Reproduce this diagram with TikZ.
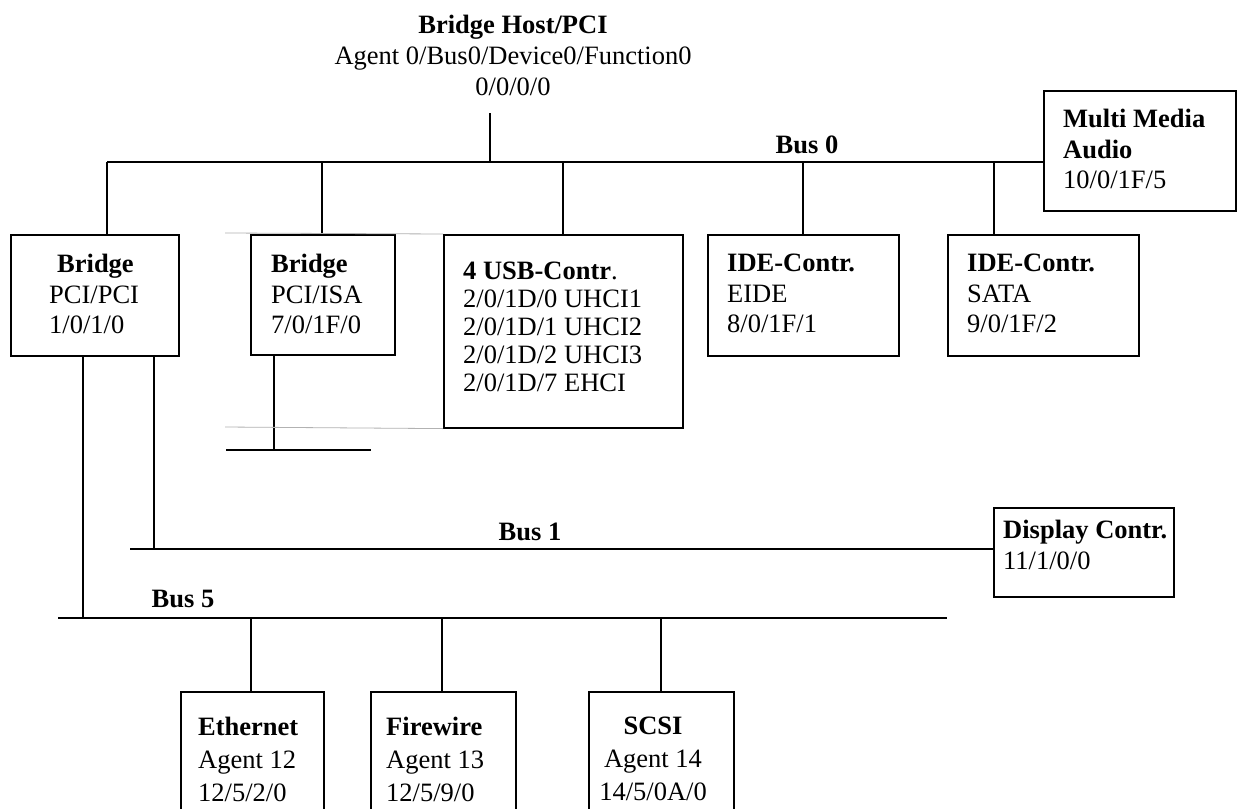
\documentclass[tikz,border=0pt]{standalone}
\usepackage{fontspec}
\setmainfont{Liberation Serif}
\begin{document}
\begin{tikzpicture}[x=1pt,y=-1pt,
  wire/.style={line width=1.6pt, black},
  box/.style={draw, line width=1.6pt, inner sep=0pt, anchor=north west},
  frameline/.style={line width=0.8pt, black!30},
  txt/.style={inner sep=0pt, anchor=north west, align=left,
    font=\fontsize{26.5}{30.5}\selectfont},
  usblines/.style={font=\fontsize{26.5}{28}\selectfont},
  buslabel/.style={inner sep=0pt, anchor=base, font=\fontsize{26.5}{30}\selectfont\bfseries}]
\clip (0,0) rectangle (1241,808);
\fill[white] (0,0) rectangle (1241,808);

% host bridge heading
\node[inner sep=0pt, anchor=north, align=center,
  font=\fontsize{26.5}{31}\selectfont] (host) at (513,15)
  {\textbf{Bridge Host/PCI}\\Agent 0/Bus0/Device0/Function0\\0/0/0/0};

% device boxes
\node[box, minimum width=168pt, minimum height=121pt] (pcipci) at (10,234) {};
\node[box, minimum width=144pt, minimum height=120pt] (isa) at (250,234) {};
\node[box, minimum width=239pt, minimum height=193pt] (usb) at (443,234) {};
\node[box, minimum width=191pt, minimum height=121pt] (eide) at (707,234) {};
\node[box, minimum width=191pt, minimum height=121pt] (sata) at (947,234) {};
\node[box, minimum width=192pt, minimum height=120pt] (mm) at (1043,90) {};
\node[box, minimum width=180pt, minimum height=89pt] (disp) at (993,507) {};
\node[box, minimum width=143pt, minimum height=160pt] (eth) at (180,691) {};
\node[box, minimum width=145pt, minimum height=160pt] (fw) at (370,691) {};
\node[box, minimum width=145pt, minimum height=160pt] (scsi) at (588,691) {};

% box texts
\node[txt] (pcipciT) at (49,254) {\hspace*{8pt}\textbf{Bridge}\\PCI/PCI\\1/0/1/0};
\node[txt] (isaT) at (271,254) {\textbf{Bridge}\\PCI/ISA\\7/0/1F/0};
\node[txt, usblines] (usbT) at (463,262) {\textbf{4 USB-Contr}.\\2/0/1D/0 UHCI1\\2/0/1D/1 UHCI2\\2/0/1D/2 UHCI3\\2/0/1D/7 EHCI};
\node[txt] (eideT) at (727,254) {\textbf{IDE-Contr.}\\EIDE\\8/0/1F/1};
\node[txt] (sataT) at (967,254) {\textbf{IDE-Contr.}\\SATA\\9/0/1F/2};
\node[txt] (mmT) at (1063,109) {\textbf{Multi Media}\\\textbf{Audio}\\10/0/1F/5};
\node[txt] (dispT) at (1003,520) {\textbf{Display Contr.}\\11/1/0/0};
\node[txt, font=\fontsize{26.5}{33}\selectfont] (ethT) at (198,717) {\textbf{Ethernet}\\Agent 12\\12/5/2/0};
\node[txt, font=\fontsize{26.5}{33}\selectfont] (fwT) at (386,717) {\textbf{Firewire}\\Agent 13\\12/5/9/0};
\node[txt, anchor=north, align=center, font=\fontsize{26.5}{33}\selectfont] (scsiT) at (653,717) {\textbf{SCSI}\\Agent 14\\14/5/0A/0};

% bus labels
\node[buslabel] (bus0) at (807,153) {Bus 0};
\node[buslabel] (bus1) at (530,540) {Bus 1};
\node[buslabel] (bus5) at (183,607) {Bus 5};

% bus taps and end points
\coordinate (hostTap) at (490,113);
\coordinate (b0L) at (107,162);
\coordinate (t0isa) at (322,162);
\coordinate (t0host) at (490,162);
\coordinate (t0usb) at (563,162);
\coordinate (t0eide) at (803,162);
\coordinate (t0sata) at (994,162);
\coordinate (b1L) at (130,549);
\coordinate (b1up) at (154,355);
\coordinate (b5L) at (58,618);
\coordinate (b5R) at (947,618);
\coordinate (b5up) at (83,355);
\coordinate (t5eth) at (251,618);
\coordinate (t5fw) at (442,618);
\coordinate (t5scsi) at (661,618);
\coordinate (isaDown) at (274,354);
\coordinate (isaBusL) at (226,450);
\coordinate (isaBusR) at (371,450);

% Bus 0
\draw[wire] (b0L) -- (b0L -| mm.west);
\draw[wire] (hostTap) -- (t0host);
\draw[wire] (b0L) -- (b0L |- pcipci.north);
\draw[wire] (t0isa) -- (t0isa |- isa.north);
\draw[wire] (t0usb) -- (t0usb |- usb.north);
\draw[wire] (t0eide) -- (t0eide |- eide.north);
\draw[wire] (t0sata) -- (t0sata |- sata.north);

% Bus 1
\draw[wire] (b1L) -- (b1L -| disp.west);
\draw[wire] (b1up) -- (b1up |- b1L);

% Bus 5
\draw[wire] (b5L) -- (b5R);
\draw[wire] (b5up) -- (b5up |- b5L);
\draw[wire] (t5eth) -- (t5eth |- eth.north);
\draw[wire] (t5fw) -- (t5fw |- fw.north);
\draw[wire] (t5scsi) -- (t5scsi |- scsi.north);

% ISA bus
\draw[wire] (isaDown) -- (isaDown |- isaBusL);
\draw[wire] (isaBusL) -- (isaBusR);

% faint frame lines
\draw[frameline] (225,233) -- (usb.north west);
\draw[frameline] (225,427) -- (usb.south west);
\end{tikzpicture}
\end{document}
